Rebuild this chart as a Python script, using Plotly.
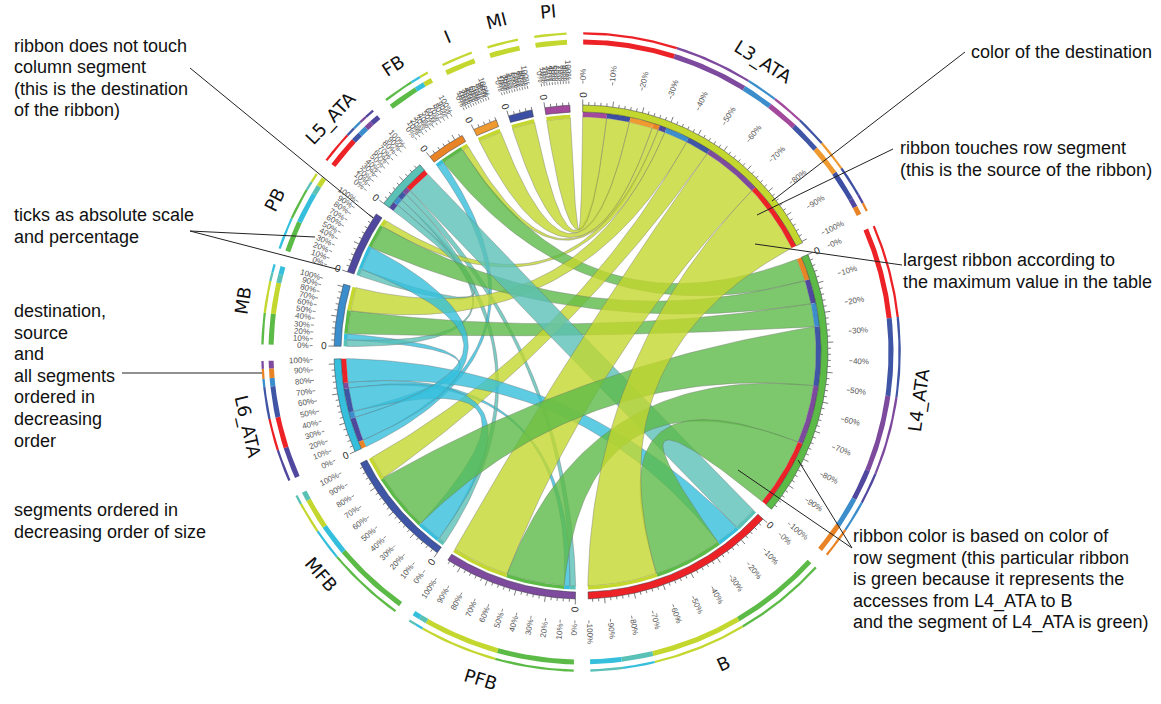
import numpy as np
import plotly.graph_objects as go

W, H = 1161, 704
CX, CY = 581, 352

# ---- data: table of accesses ----
SEGMENTS = ["L3_ATA", "L4_ATA", "B", "PFB", "MFB", "L6_ATA", "MB", "PB", "L5_ATA", "FB", "I", "MI", "PI"]
ROWS = ["L3_ATA", "L4_ATA", "L6_ATA", "L5_ATA"]
COLUMNS = ["B", "PFB", "MFB", "MB", "PB", "FB", "I", "MI", "PI"]
L3_ATA_VALUES = [17.1, 14.2, 5.75, 5.8, 1.7, 1.6, 5.7, 5.65, 5.85]
L4_ATA_VALUES = [17.0, 14.3, 14.4, 5.7, 5.8, 5.6, 0, 0, 0]
L6_ATA_VALUES = [5.8, 1.4, 5.8, 1.5, 5.85, 1.8, 0, 0, 0]
L5_ATA_VALUES = [5.9, 1.4, 1.7, 1.6, 1.7, 0, 0, 0, 0]
TABLE = dict(zip(ROWS, [L3_ATA_VALUES, L4_ATA_VALUES, L6_ATA_VALUES, L5_ATA_VALUES]))

COLORS = {"L3_ATA": "#C4D72E", "L4_ATA": "#5CBA47", "B": "#EC2227", "PFB": "#7D4A9E",
          "MFB": "#3F55A5", "L6_ATA": "#35BFDC", "MB": "#3C8DCB", "PB": "#50479F",
          "L5_ATA": "#5AC1B6", "FB": "#E88426", "I": "#EF9A30", "MI": "#3D4FA2", "PI": "#A2499C"}

THICK_ORDER = {
    "L3_ATA": ["B", "PFB", "MB", "PI", "MFB", "I", "MI", "PB", "FB"],
    "L4_ATA": ["B", "MFB", "PFB", "PB", "MB", "FB"],
    "B": ["L4_ATA", "L3_ATA", "L5_ATA", "L6_ATA"],
    "PFB": ["L4_ATA", "L3_ATA", "L5_ATA", "L6_ATA"],
    "MFB": ["L4_ATA", "L6_ATA", "L3_ATA", "L5_ATA"],
    "L6_ATA": ["PB", "B", "MFB", "MB", "FB", "PFB"],
    "MB": ["L4_ATA", "L3_ATA", "L5_ATA", "L6_ATA"],
    "PB": ["L4_ATA", "L6_ATA", "L5_ATA", "L3_ATA"],
    "L5_ATA": ["B", "MFB", "MB", "PFB", "PB"],
    "FB": ["L4_ATA", "L6_ATA", "L3_ATA"],
    "I": ["L3_ATA"], "MI": ["L3_ATA"], "PI": ["L3_ATA"],
}
THIN_ORDER = dict(THICK_ORDER)
THIN_ORDER.update({
    "B": ["L4_ATA", "L3_ATA", "L6_ATA", "L5_ATA"],
    "PFB": ["L4_ATA", "L3_ATA", "L6_ATA", "L5_ATA"],
    "PB": ["L6_ATA", "L4_ATA", "L5_ATA", "L3_ATA"],
})

PERCENTS = [0, 10, 20, 30, 40, 50, 60, 70, 80, 90, 100]
TICK_STEP = 1.4

CALLOUTS = [
    (12, 46, "ribbon does not touch"), (12, 67, "column segment"), (12, 89, "(this is the destination"),
    (12, 110, "of the ribbon)"), (12, 215, "ticks as absolute scale"), (12, 237, "and percentage"),
    (12, 311, "destination,"), (12, 333, "source"), (12, 354, "and"), (12, 376, "all segments"),
    (12, 397, "ordered in"), (12, 419, "decreasing"), (12, 441, "order"),
    (12, 510, "segments ordered in"), (12, 532, "decreasing order of size"),
    (969, 52, "color of the destination"),
    (898, 148, "ribbon touches row segment"), (898, 170, "(this is the source of the ribbon)"),
    (901, 260, "largest ribbon according to"), (901, 282, "the maximum value in the table"),
    (851, 536, "ribbon color is based on color of"), (851, 558, "row segment (this particular ribbon"),
    (851, 579, "is green because it represents the"), (851, 601, "accesses from L4_ATA to B"),
    (851, 622, "and the segment of L4_ATA is green)"),
]
LEADERS = [
    (190, 68, 373, 218), (190, 231, 315, 237), (190, 231, 340, 270), (122, 373, 262, 373),
    (965, 52, 772, 201), (893, 149, 757, 215), (902, 265, 755, 244),
    (852, 548, 798, 460), (852, 548, 738, 470),
]

# ---- layout of the circle ----
R_BAND, R_BAND_IN = 247, 240
R_SRC_STRIP, R_SRC = 240, 235
R_DST_STRIP, R_DST = 237.5, 234
R_CTRL = 12


def value(a, b):
    return TABLE[a][COLUMNS.index(b)]


def seg_total(s):
    if s in ROWS:
        return sum(TABLE[s])
    return sum(TABLE[r][COLUMNS.index(s)] for r in ROWS)


sizes = {s: seg_total(s) for s in SEGMENTS}
gap = (360 - sum(sizes.values())) / len(SEGMENTS)
starts = {}
pos = 0.4
for s in SEGMENTS:
    starts[s] = pos
    pos += sizes[s] + gap


def pt(r, a):
    t = np.radians(a)
    return CX + r * np.sin(t), CY - r * np.cos(t)


def arc(r, a0, a1):
    n = max(3, int(abs(a1 - a0) * 2) + 2)
    return pt(r, np.linspace(a0, a1, n))


def band(r0, r1, a0, a1):
    x0, y0 = arc(r0, a0, a1)
    x1, y1 = arc(r1, a1, a0)
    return np.r_[x0, x1, x0[0]], np.r_[y0, y1, y0[0]]


def quad(r0, a0, r1, a1):
    m = np.degrees(np.arctan2(np.sin(np.radians(a0)) + np.sin(np.radians(a1)),
                              np.cos(np.radians(a0)) + np.cos(np.radians(a1))))
    p0 = np.array(pt(r0, a0))
    p2 = np.array(pt(r1, a1))
    c = np.array(pt(R_CTRL, m))
    t = np.linspace(0, 1, 60)
    x = (1 - t) ** 2 * p0[0] + 2 * t * (1 - t) * c[0] + t ** 2 * p2[0]
    y = (1 - t) ** 2 * p0[1] + 2 * t * (1 - t) * c[1] + t ** 2 * p2[1]
    return x, y


def rgba(hexc, alpha):
    h = hexc.lstrip("#")
    return f"rgba({int(h[:2],16)},{int(h[2:4],16)},{int(h[4:],16)},{alpha})"


fig = go.Figure()


def poly(x, y, fill, line="rgba(0,0,0,0)", lw=0):
    fig.add_trace(go.Scatter(x=x, y=y, mode="lines", fill="toself", fillcolor=fill,
                             line=dict(color=line, width=lw), hoverinfo="skip", showlegend=False))


# ribbon slots on both ends
src_slots, dst_slots = {}, {}
for r in ROWS:
    a = starts[r]
    for c in reversed(COLUMNS):
        v = value(r, c)
        if v > 0:
            src_slots[(r, c)] = (a, a + v)
            a += v
for c in COLUMNS:
    a = starts[c]
    for r in reversed(ROWS):
        v = value(r, c)
        if v > 0:
            dst_slots[(r, c)] = (a, a + v)
            a += v

# ribbons, smallest first so that the largest lie on top
for (r, c) in sorted(src_slots, key=lambda k: value(*k)):
    a0, a1 = src_slots[(r, c)]
    b0, b1 = dst_slots[(r, c)]
    xa, ya = arc(R_SRC, a0, a1)
    xq1, yq1 = quad(R_SRC, a1, R_DST, b0)
    xb, yb = arc(R_DST, b0, b1)
    xq2, yq2 = quad(R_DST, b1, R_SRC, a0)
    poly(np.r_[xa, xq1, xb, xq2], np.r_[ya, yq1, yb, yq2], rgba(COLORS[r], 0.8),
         "rgba(110,110,110,0.55)", 0.7)

# strips at the ribbon ends
for (r, c), (a0, a1) in src_slots.items():
    x, y = band(R_SRC_STRIP, R_SRC, a0, a1)
    poly(x, y, COLORS[c])
for (r, c), (b0, b1) in dst_slots.items():
    x, y = band(R_DST_STRIP, R_DST, b0, b1)
    poly(x, y, COLORS[r])

# segment bands, ticks and outer rings
tx, ty = [], []
px_, py_ = [], []
annotations = []
for s in SEGMENTS:
    a0 = starts[s]
    a1 = a0 + sizes[s]
    x, y = band(R_BAND, R_BAND_IN, a0, a1)
    poly(x, y, COLORS[s], "#33363f", 0.5)

    n = 0
    v = 0.0
    while v <= sizes[s] + 1e-6:
        a = a0 + v
        outer = R_BAND + (5.5 if n % 5 == 0 else 3)
        x, y = pt(np.array([R_BAND, outer]), a)
        tx += [x[0], x[1], None]
        ty += [y[0], y[1], None]
        n += 1
        v += TICK_STEP

    flip = (a0 + a1) / 2 > 180
    zx, zy = pt(257, a0)
    annotations.append(dict(x=zx, y=zy, text="0", showarrow=False, xanchor="center", yanchor="middle",
                            textangle=(a0 + 90 if flip else a0 - 90),
                            font=dict(family="Liberation Sans", size=10, color="#333333")))
    for p in PERCENTS:
        a = a0 + sizes[s] * p / 100
        x, y = pt(np.array([268.5, 271.5]), a)
        px_ += [x[0], x[1], None]
        py_ += [y[0], y[1], None]
        label = f"{p}%"
        w = 4.3 * len(label)
        lx, ly = pt(273.5 + w / 2, a)
        annotations.append(dict(x=lx, y=ly, text=label, showarrow=False, xanchor="center", yanchor="middle",
                                textangle=(a + 90 if flip else a - 90),
                                font=dict(family="Liberation Sans", size=8, color="#555555")))

    for order, r0, r1 in ((THICK_ORDER, 307.5, 312.5), (THIN_ORDER, 317.5, 319.8)):
        a = a0
        for partner in order[s]:
            v = value(s, partner) if s in ROWS else value(partner, s)
            x, y = band(r0, r1, a, a + v)
            poly(x, y, COLORS[partner])
            a += v

    mid = (a0 + a1) / 2
    lx, ly = pt(342, mid)
    if mid <= 90:
        rot = mid
    elif mid <= 270:
        rot = mid - 180
    else:
        rot = mid - 360
    annotations.append(dict(x=lx, y=ly, text=s, showarrow=False, xanchor="center", yanchor="middle",
                            textangle=rot, font=dict(family="DejaVu Sans", size=18, color="#111111")))

fig.add_trace(go.Scatter(x=tx, y=ty, mode="lines", line=dict(color="#444444", width=0.7),
                         hoverinfo="skip", showlegend=False))
fig.add_trace(go.Scatter(x=px_, y=py_, mode="lines", line=dict(color="#555555", width=0.7),
                         hoverinfo="skip", showlegend=False))

for x, y, t in CALLOUTS:
    annotations.append(dict(x=x, y=y, text=t, showarrow=False, xanchor="left", yanchor="middle",
                            font=dict(family="Liberation Sans", size=18, color="#111111")))

shapes = [dict(type="line", x0=a, y0=b, x1=c, y1=d, xref="x", yref="y",
               line=dict(color="#222222", width=1)) for a, b, c, d in LEADERS]

fig.update_layout(
    width=W, height=H, margin=dict(l=0, r=0, t=0, b=0), paper_bgcolor="white", plot_bgcolor="white",
    xaxis=dict(range=[0, W], visible=False, fixedrange=True),
    yaxis=dict(range=[H, 0], visible=False, fixedrange=True),
    annotations=annotations, shapes=shapes, showlegend=False,
)
fig.write_html("out.html", post_script="document.body.style.margin='0';", config={"displayModeBar": False})
